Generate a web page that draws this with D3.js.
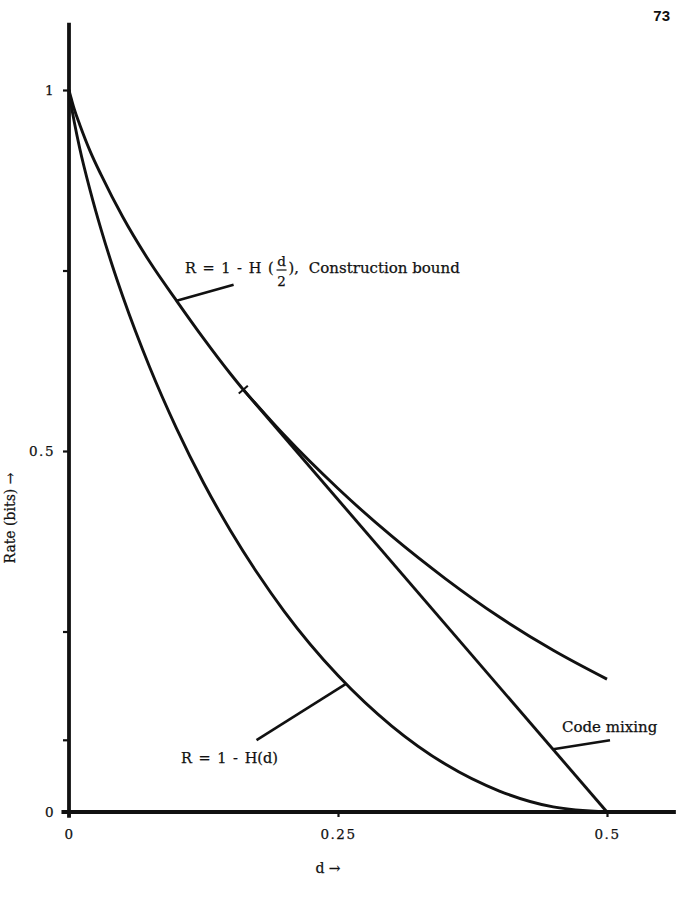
<!DOCTYPE html>
<html>
<head>
<meta charset="utf-8">
<script src="https://cdn.jsdelivr.net/npm/d3@7"></script>
<style>
  body { margin: 0; background: #fff; }
  svg { display: block; }
  text { font-family: "DejaVu Serif", serif; fill: #111; stroke: #111; stroke-width: 0.25px; }
</style>
</head>
<body>
<svg id="chart" width="681" height="897"></svg>
<script>
// values
var boundD = [0, 0.001, 0.0025, 0.005, 0.01, 0.02, 0.03, 0.05, 0.075, 0.1, 0.125, 0.15, 0.162, 0.175, 0.2, 0.25, 0.3, 0.35, 0.4, 0.45, 0.5];
var boundR = [1, 0.994, 0.986, 0.973, 0.952, 0.914, 0.882, 0.824, 0.762, 0.708, 0.656, 0.607, 0.585, 0.563, 0.522, 0.448, 0.382, 0.323, 0.270, 0.224, 0.184];

var hammingD = [0, 0.001, 0.0025, 0.005, 0.01, 0.02, 0.03, 0.04, 0.05, 0.075, 0.1, 0.125, 0.15, 0.175, 0.2, 0.25, 0.3, 0.35, 0.4, 0.45, 0.5];
var hammingR = [1, 0.989, 0.975, 0.955, 0.919, 0.859, 0.806, 0.758, 0.714, 0.616, 0.531, 0.456, 0.390, 0.331, 0.278, 0.189, 0.119, 0.066, 0.029, 0.007, 0];

var mixingD = [0.162, 0.5];
var mixingR = [0.585, 0];

var xTicks = [0, 0.25, 0.5];
var xTickLabels = ["0", "0.25", "0.5"];
var yTicks = [0, 0.1, 0.25, 0.5, 0.75, 1];
var yTickLabels = {0: "0", 0.5: "0.5", 1: "1"};
var xExtent = [-0.007, 0.564];
var yExtent = [-0.008, 1.093];

var svg = d3.select("#chart");

var x = d3.scaleLinear().domain([0, 0.5]).range([69, 607]);
var y = d3.scaleLinear().domain([0, 1]).range([812, 90]);

var line = d3.line()
    .x(function(d) { return x(d[0]); })
    .y(function(d) { return y(d[1]); })
    .curve(d3.curveMonotoneX);

// axes
var yAxis = svg.append("g")
    .attr("transform", "translate(" + x(0) + ",0)")
    .call(d3.axisLeft(y).tickValues(yTicks).tickSize(6).tickPadding(8)
      .tickFormat(function(d) { return yTickLabels[d] || ""; }));
yAxis.select(".domain").remove();

var xAxis = svg.append("g")
    .attr("transform", "translate(0," + y(0) + ")")
    .call(d3.axisBottom(x).tickValues(xTicks).tickSize(5).tickPadding(12)
      .tickFormat(function(d, i) { return xTickLabels[i]; }));
xAxis.select(".domain").remove();

svg.selectAll(".tick line").attr("stroke", "#111").attr("stroke-width", 2.2);
svg.selectAll(".tick text")
    .attr("font-family", "DejaVu Serif")
    .attr("font-size", 13.5)
    .attr("letter-spacing", "1.5px")
    .attr("fill", "#111");

svg.append("line")
    .attr("x1", x(0)).attr("x2", x(0))
    .attr("y1", y(yExtent[1])).attr("y2", y(yExtent[0]))
    .attr("stroke", "#111").attr("stroke-width", 3.8);
svg.append("line")
    .attr("x1", x(xExtent[0])).attr("x2", x(xExtent[1]))
    .attr("y1", y(0)).attr("y2", y(0))
    .attr("stroke", "#111").attr("stroke-width", 3.8);

// curves
function pairs(a, b) { return a.map(function(v, i) { return [v, b[i]]; }); }

[pairs(boundD, boundR), pairs(hammingD, hammingR), pairs(mixingD, mixingR)].forEach(function(s) {
  svg.append("path")
      .datum(s)
      .attr("fill", "none")
      .attr("stroke", "#111")
      .attr("stroke-width", 2.9)
      .attr("stroke-linejoin", "round")
      .attr("d", line);
});

// small cross where code mixing leaves the bound
var tx = x(mixingD[0]), ty = y(mixingR[0]);
var dx = x(mixingD[1]) - tx, dy = y(mixingR[1]) - ty, len = Math.sqrt(dx * dx + dy * dy);
svg.append("line")
    .attr("x1", tx - dy / len * 6).attr("y1", ty + dx / len * 6)
    .attr("x2", tx + dy / len * 6).attr("y2", ty - dx / len * 6)
    .attr("stroke", "#111").attr("stroke-width", 2);

// leaders
function leader(d, r, ox, oy) {
  svg.append("line")
      .attr("x1", x(d)).attr("y1", y(r))
      .attr("x2", x(d) + ox).attr("y2", y(r) + oy)
      .attr("stroke", "#111").attr("stroke-width", 2.6);
}
leader(0.1, 0.708, 57, -16);
leader(0.257, 0.177, -89, 56);
var mixAt = 0.4498;
leader(mixAt, mixingR[0] * (0.5 - mixAt) / (0.5 - mixingD[0]), 57, -9);

// construction bound label with fraction
var fs = 14.5;
var t1 = svg.append("text").attr("x", 185).attr("y", 273).attr("font-size", fs)
    .attr("word-spacing", "2px").text("R = 1 - H (");
var w1 = t1.node().getComputedTextLength();
var fx = 185 + w1 + 8;
svg.append("text").attr("x", fx).attr("y", 266).attr("font-size", 13.5).attr("text-anchor", "middle").text("d");
svg.append("line").attr("x1", fx - 5).attr("x2", fx + 5).attr("y1", 270).attr("y2", 270)
    .attr("stroke", "#111").attr("stroke-width", 1.2);
svg.append("text").attr("x", fx).attr("y", 286).attr("font-size", 13.5).attr("text-anchor", "middle").text("2");
var t2 = svg.append("text").attr("x", fx + 7).attr("y", 273).attr("font-size", fs).text("),");
svg.append("text").attr("x", fx + 7 + t2.node().getComputedTextLength() + 10).attr("y", 273)
    .attr("font-size", 15).text("Construction bound");

svg.append("text").attr("x", 181).attr("y", 763).attr("font-size", fs)
    .attr("word-spacing", "2px").text("R = 1 - H(d)");
svg.append("text").attr("x", 562).attr("y", 732).attr("font-size", 15).text("Code mixing");

// axis titles
svg.append("text").attr("x", 328).attr("y", 873).attr("font-size", 14)
    .attr("text-anchor", "middle").text("d \u2192");
svg.append("text")
    .attr("transform", "translate(15,518) rotate(-90)")
    .attr("font-size", 14).attr("text-anchor", "middle").text("Rate (bits) \u2192");

// page number
svg.append("text").attr("x", 670).attr("y", 21)
    .attr("text-anchor", "end")
    .style("font-family", "'Liberation Sans', Arial, sans-serif")
    .style("stroke", "none")
    .attr("font-weight", "bold").attr("font-size", 15).text("73");
</script>
</body>
</html>
